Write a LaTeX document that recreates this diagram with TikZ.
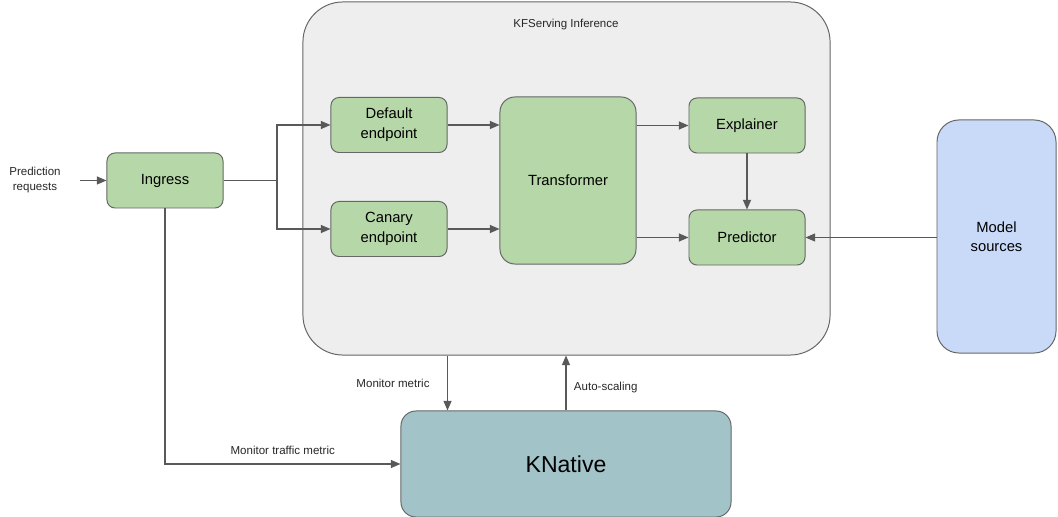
\documentclass[tikz,border=0pt]{standalone}
\usepackage{fontspec}
\setmainfont{Liberation Sans}
\usepackage{xcolor,tikz}
\usetikzlibrary{arrows.meta,positioning}
\definecolor{boxgreen}{HTML}{B6D7A8}
\definecolor{boxedge}{HTML}{666666}
\definecolor{panel}{HTML}{EEEEEE}
\definecolor{modelblue}{HTML}{C9DAF8}
\definecolor{knteal}{HTML}{A2C4C9}
\definecolor{wire}{HTML}{595959}

\begin{document}
\begin{tikzpicture}[x=0.025cm,y=-0.025cm,
  stage/.style={draw=boxedge,fill=boxgreen,line width=0.7pt,rounded corners=0.2cm,
    minimum width=2.9cm,minimum height=1.375cm,inner sep=0pt,align=center,
    font=\fontsize{10.5}{14}\selectfont},
  flow/.style={draw=wire,line width=0.8pt,-{Triangle[length=2.4mm,width=2mm]}},
  note/.style={font=\fontsize{8.2}{10}\selectfont,text=black!85,align=center,inner sep=1pt}]
\useasboundingbox (0,0) rectangle (1058,517);

% serving panel
\node[draw=boxedge,fill=panel,line width=0.7pt,rounded corners=1cm,
  minimum width=13.175cm,minimum height=8.825cm] (panel) at (566.5,178.5) {};
\node[note] (paneltitle) at (566,25) {KFServing Inference};

% components
\node[note] (request) at (35,180) {Prediction\\requests};
\node[stage] (ingress) at (165,180.5) {Ingress};
\node[stage] (dflt) at (389,125) {Default\\endpoint};
\node[stage] (canary) at (389,229) {Canary\\endpoint};
\node[stage,rounded corners=0.375cm,minimum width=3.4cm,minimum height=4.175cm] (xform) at (568,180.5) {Transformer};
\node[stage] (explainer) at (747,125.5) {Explainer};
\node[stage] (predictor) at (747,237.5) {Predictor};
\node[draw=boxedge,fill=modelblue,line width=0.7pt,rounded corners=0.55cm,
  minimum width=2.975cm,minimum height=5.825cm,align=center,
  font=\fontsize{10.5}{13.5}\selectfont] (models) at (996.5,236.5) {Model\\sources};
\node[draw=boxedge,fill=knteal,line width=0.7pt,rounded corners=0.375cm,
  minimum width=8.25cm,minimum height=2.65cm,
  font=\fontsize{16.4}{19}\selectfont] (knative) at (566,464) {KNative};

% request flow
\coordinate (reqend) at (80,180.5);
\coordinate (split) at (277,180.5);
\draw[flow] (reqend) -- (ingress.west);
\draw[draw=wire,line width=0.8pt] (ingress.east) -- (split);
\draw[flow] (split) |- (dflt.west);
\draw[flow] (split) |- (canary.west);
\draw[flow] (dflt.east) -- (dflt -| xform.west);
\draw[flow] (canary.east) -- (canary -| xform.west);
\draw[flow] (explainer -| xform.east) -- (explainer.west);
\draw[flow] (predictor -| xform.east) -- (predictor.west);
\draw[flow] (explainer.south) -- (predictor.north);
\draw[flow] (models.west |- predictor) -- (predictor.east);

% metrics and scaling
\draw[flow] (ingress.south) |- (knative.west)
  node[note,pos=0.75,above=5pt] {Monitor traffic metric};
\draw[flow] (panel.south -| dflt.east) -- (knative.north -| dflt.east)
  node[note,midway,left=0.4cm] {Monitor metric};
\draw[flow] (knative.north) -- (knative.north |- panel.south)
  node[note,pos=0.42,right=0.15cm] {Auto-scaling};
\end{tikzpicture}
\end{document}
